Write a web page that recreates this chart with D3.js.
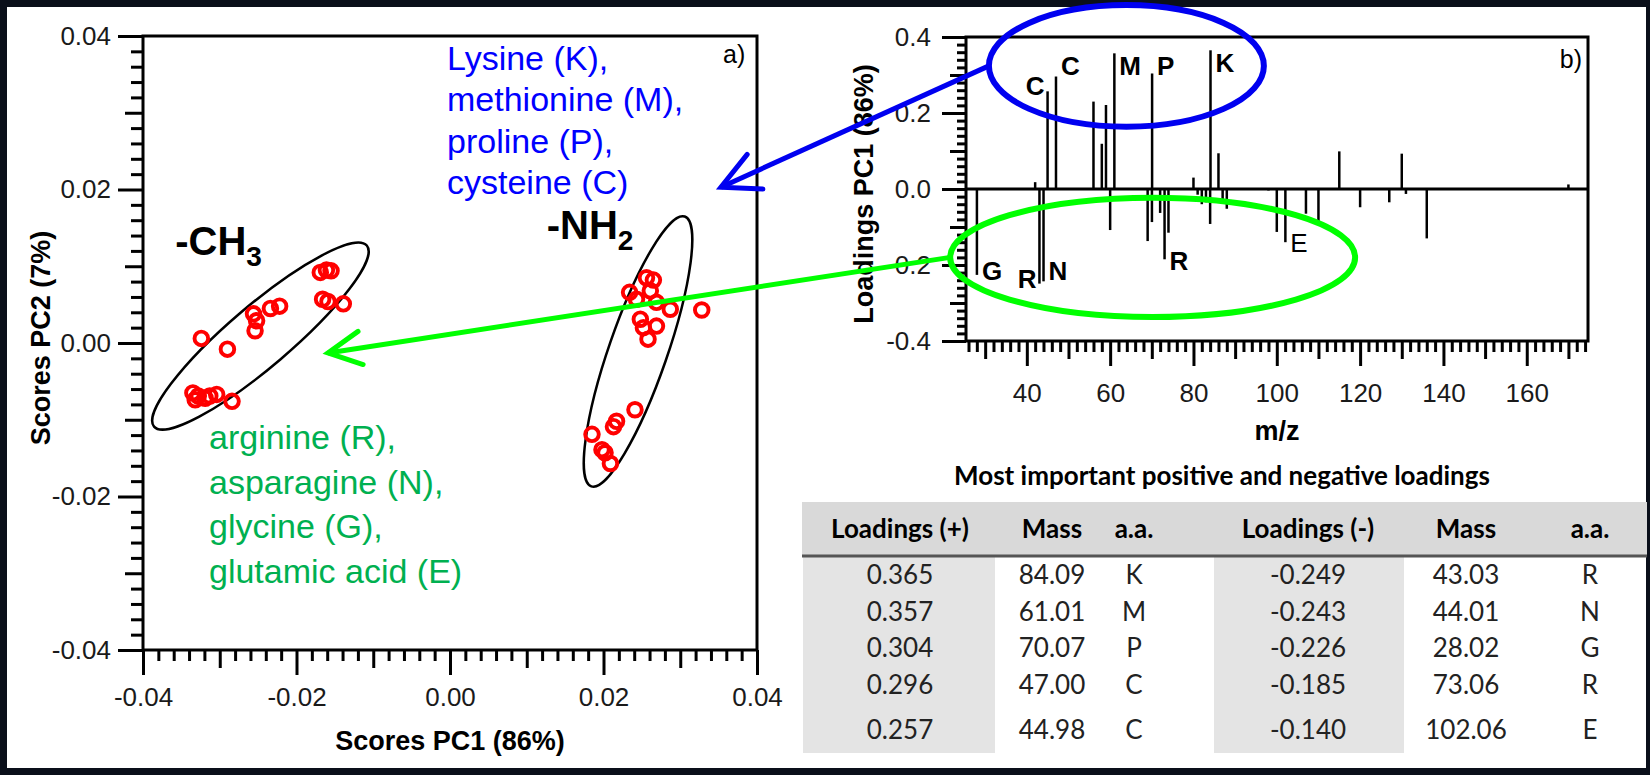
<!DOCTYPE html>
<html>
<head>
<meta charset="utf-8">
<script src="https://cdnjs.cloudflare.com/ajax/libs/d3/7.8.5/d3.min.js"></script>
<style>
  body { margin: 0; background: #0a0f1a; }
  svg text { font-family: "Liberation Sans", Arial, sans-serif; }
</style>
</head>
<body>
<svg id="fig" width="1650" height="775"></svg>
<script>
// ---- data ----

// a) scores, PC1 vs PC2
var ch3Scores = [
  [-0.0169, 0.0092], [-0.0161, 0.0095], [-0.0155, 0.0094], [-0.0166, 0.0057],
  [-0.0159, 0.0054], [-0.0139, 0.0051], [-0.0256, 0.0038], [-0.0252, 0.0029],
  [-0.0254, 0.0016], [-0.0234, 0.0045], [-0.0222, 0.0048], [-0.0324, 0.0006],
  [-0.0290, -0.0008], [-0.0335, -0.0065], [-0.0328, -0.0069], [-0.0319, -0.0072],
  [-0.0313, -0.0069], [-0.0304, -0.0067], [-0.0284, -0.0076], [-0.0332, -0.0074]
];
var nh2Scores = [
  [0.0256, 0.0085], [0.0265, 0.0082], [0.0234, 0.0066], [0.0243, 0.0057],
  [0.0269, 0.0053], [0.0287, 0.0044], [0.0328, 0.0043], [0.0248, 0.0031],
  [0.0269, 0.0022], [0.0252, 0.0020], [0.0258, 0.0005], [0.0261, 0.0068],
  [0.0241, -0.0087], [0.0217, -0.0102], [0.0213, -0.0109], [0.0185, -0.0119],
  [0.0198, -0.0139], [0.0202, -0.0143], [0.0209, -0.0157]
];
// group ellipses: centre, semi-axes (PC units), tilt in degrees
var groupEllipses = [
  { cx: -0.0247, cy: 0.0009, a: 0.0182, b: 0.0040, angle: 40.4 },
  { cx: 0.0245, cy: -0.0011, a: 0.0186, b: 0.0038, angle: 70.9 }
];
var groupLabels = [
  { x: -0.0358, y: 0.0115, text: "-CH", sub: "3" },
  { x: 0.0126, y: 0.0136, text: "-NH", sub: "2" }
];
var scoreMajor = [-0.04, -0.02, 0, 0.02, 0.04];
var scoreMid = [-0.03, -0.01, 0.01, 0.03];
var scoreMinor = [-0.038, -0.036, -0.034, -0.032, -0.028, -0.026, -0.024, -0.022,
  -0.018, -0.016, -0.014, -0.012, -0.008, -0.006, -0.004, -0.002,
  0.002, 0.004, 0.006, 0.008, 0.012, 0.014, 0.016, 0.018,
  0.022, 0.024, 0.026, 0.028, 0.032, 0.034, 0.036, 0.038];

// b) PC1 loadings per m/z
var loadMz = [28.02, 42.0, 43.03, 44.01, 44.98, 47.00, 56.0, 58.0, 59.0, 60.0, 61.01,
  69.0, 70.03, 70.07, 72.0, 73.06, 74.0, 80.0, 81.0, 82.0, 83.0, 84.0, 84.09, 86.0,
  87.0, 88.0, 98.0, 100.0, 102.06, 107.0, 110.0, 115.0, 120.0, 127.0, 130.0, 131.0,
  136.0, 170.0];
var loadPC1 = [-0.226, 0.018, -0.249, -0.243, 0.257, 0.296, 0.230, 0.119, 0.221, -0.108, 0.357,
  -0.137, -0.087, 0.304, -0.063, -0.185, -0.115, 0.030, -0.015, -0.040, -0.035, -0.092, 0.365, 0.094,
  -0.028, -0.052, -0.004, -0.113, -0.140, -0.065, -0.087, 0.099, -0.048, -0.035, 0.093, -0.013,
  -0.130, 0.012];
// peak letters: m/z, label height (loading units), letter, side of bar
var peakLabels = [
  { mz: 44.98, v: 0.247, t: "C", side: "end", bold: true },
  { mz: 47.00, v: 0.300, t: "C", side: "start", bold: true },
  { mz: 61.01, v: 0.300, t: "M", side: "start", bold: true },
  { mz: 70.07, v: 0.300, t: "P", side: "start", bold: true },
  { mz: 84.09, v: 0.308, t: "K", side: "start", bold: true },
  { mz: 28.02, v: -0.240, t: "G", side: "start", bold: true },
  { mz: 43.03, v: -0.261, t: "R", side: "end", bold: true },
  { mz: 44.01, v: -0.240, t: "N", side: "start", bold: true },
  { mz: 73.06, v: -0.214, t: "R", side: "start", bold: true },
  { mz: 102.06, v: -0.165, t: "E", side: "start", bold: false }
];
var mzMajor = [40, 60, 80, 100, 120, 140, 160];
var mzMid = [30, 50, 70, 90, 110, 130, 150, 170];
var mzMinor = d3.range(26, 175, 2).filter(function(d) { return d % 10 !== 0; });
var loadMajor = [-0.4, -0.2, 0, 0.2, 0.4];
var loadMid = [-0.3, -0.1, 0.1, 0.3];
var loadMinor = d3.range(-38, 40, 2).filter(function(d) { return d % 10 !== 0; }).map(function(d) { return d / 100; });

// annotations
var blueText = ["Lysine (K),", "methionine (M),", "proline (P),", "cysteine (C)"];
var greenText = ["arginine (R),", "asparagine (N),", "glycine (G),", "glutamic acid (E)"];

// table of most important loadings
var tableHead = ["Loadings (+)", "Mass", "a.a.", "Loadings (-)", "Mass", "a.a."];
var posLoad = [0.365, 0.357, 0.304, 0.296, 0.257];
var posMass = [84.09, 61.01, 70.07, 47.00, 44.98];
var posAA = ["K", "M", "P", "C", "C"];
var negLoad = [-0.249, -0.243, -0.226, -0.185, -0.140];
var negMass = [43.03, 44.01, 28.02, 73.06, 102.06];
var negAA = ["R", "N", "G", "R", "E"];

// ---- drawing ----
var svg = d3.select("svg#fig");
var dash = function(s) { return s.replace("\u2212", "-"); };

svg.append("rect").attr("width", 1650).attr("height", 775).attr("fill", "#0a0f1a");
svg.append("rect").attr("x", 7).attr("y", 7).attr("width", 1639).attr("height", 761).attr("fill", "white");

var xS = d3.scaleLinear().domain([-0.04, 0.04]).range([143, 757]);
var yS = d3.scaleLinear().domain([-0.04, 0.04]).range([650, 36]);
var xL = d3.scaleLinear().domain([25.4, 174.7]).range([966, 1588]);
var yL = d3.scaleLinear().domain([-0.4, 0.4]).range([341, 37]);

function ruler(pos, axisFn, scale, vals, size, pad, fmt) {
  var g = svg.append("g").attr("transform", "translate(" + pos[0] + "," + pos[1] + ")")
    .call(axisFn(scale).tickValues(vals).tickSize(size).tickSizeOuter(0).tickPadding(pad)
      .tickFormat(fmt || function() { return ""; }));
  g.select(".domain").remove();
  g.selectAll("line").attr("stroke", "#000").attr("stroke-width", 3);
  g.selectAll("text").attr("font-size", 26).attr("fill", "#1a1a1a")
    .style("font-family", '"Liberation Sans", Arial, sans-serif');
  return g;
}

// -- panel a --
var f2 = function(d) { return dash(d3.format(".2f")(d)); };
ruler([143, 0], d3.axisLeft, yS, scoreMinor, 12, 8);
ruler([143, 0], d3.axisLeft, yS, scoreMid, 18, 8);
ruler([143, 0], d3.axisLeft, yS, scoreMajor, 25, 7, f2);
ruler([0, 650], d3.axisBottom, xS, scoreMinor, 11, 8);
ruler([0, 650], d3.axisBottom, xS, scoreMid, 18, 8);
ruler([0, 650], d3.axisBottom, xS, scoreMajor, 25, 13, f2);
svg.append("rect").attr("x", xS(-0.04)).attr("y", yS(0.04))
  .attr("width", xS(0.04) - xS(-0.04)).attr("height", yS(-0.04) - yS(0.04))
  .attr("fill", "none").attr("stroke", "#000").attr("stroke-width", 3);

svg.selectAll("ellipse.group").data(groupEllipses).enter().append("ellipse")
  .attr("class", "group")
  .attr("cx", function(d) { return xS(d.cx); })
  .attr("cy", function(d) { return yS(d.cy); })
  .attr("rx", function(d) { return xS(d.cx + d.a) - xS(d.cx); })
  .attr("ry", function(d) { return xS(d.cx + d.b) - xS(d.cx); })
  .attr("transform", function(d) { return "rotate(" + (-d.angle) + "," + xS(d.cx) + "," + yS(d.cy) + ")"; })
  .attr("fill", "none").attr("stroke", "#000").attr("stroke-width", 2.5);

svg.selectAll("circle.score").data(ch3Scores.concat(nh2Scores)).enter().append("circle")
  .attr("class", "score")
  .attr("cx", function(d) { return xS(d[0]); })
  .attr("cy", function(d) { return yS(d[1]); })
  .attr("r", 6.8)
  .attr("fill", "none").attr("stroke", "#ff0000").attr("stroke-width", 3.9);

var gl = svg.selectAll("text.grp").data(groupLabels).enter().append("text")
  .attr("class", "grp")
  .attr("x", function(d) { return xS(d.x); })
  .attr("y", function(d) { return yS(d.y); })
  .attr("font-size", 40).attr("font-weight", "bold").attr("fill", "#000");
gl.append("tspan").text(function(d) { return d.text; });
gl.append("tspan").attr("dy", 11).attr("font-size", 28).text(function(d) { return d.sub; });

svg.append("text").attr("x", 723).attr("y", 63).attr("font-size", 25).text("a)");
svg.append("text").attr("x", 450).attr("y", 750).attr("text-anchor", "middle")
  .attr("font-size", 27).attr("font-weight", "bold").text("Scores PC1 (86%)");
svg.append("text").attr("transform", "translate(50,338) rotate(-90)").attr("text-anchor", "middle")
  .attr("font-size", 27).attr("font-weight", "bold").text("Scores PC2 (7%)");

svg.selectAll("text.blue").data(blueText).enter().append("text")
  .attr("x", 447).attr("y", function(d, i) { return 70 + i * 41.3; })
  .attr("font-size", 34).attr("fill", "#0000ff").text(function(d) { return d; });
svg.selectAll("text.green").data(greenText).enter().append("text")
  .attr("x", 209).attr("y", function(d, i) { return 449 + i * 44.5; })
  .attr("font-size", 34).attr("fill", "#00b050").text(function(d) { return d; });

// -- panel b --
var f1 = function(d) { return dash(d3.format(".1f")(d)); };
ruler([966, 0], d3.axisLeft, yL, loadMinor, 9, 8);
ruler([966, 0], d3.axisLeft, yL, loadMid, 16, 8);
ruler([966, 0], d3.axisLeft, yL, loadMajor, 24, 11, f1);
ruler([0, 341], d3.axisBottom, xL, mzMinor, 11, 8);
ruler([0, 341], d3.axisBottom, xL, mzMid, 18, 8);
ruler([0, 341], d3.axisBottom, xL, mzMajor, 25, 18, d3.format("d"));

svg.selectAll("line.bar").data(loadMz).enter().append("line")
  .attr("class", "bar")
  .attr("x1", function(d) { return xL(d); }).attr("x2", function(d) { return xL(d); })
  .attr("y1", yL(0)).attr("y2", function(d, i) { return yL(loadPC1[i]); })
  .attr("stroke", "#000").attr("stroke-width", 2.5);
svg.append("line").attr("x1", xL.range()[0]).attr("x2", xL.range()[1])
  .attr("y1", yL(0)).attr("y2", yL(0)).attr("stroke", "#000").attr("stroke-width", 3);
svg.append("rect").attr("x", 966).attr("y", yL(0.4)).attr("width", 1588 - 966).attr("height", yL(-0.4) - yL(0.4))
  .attr("fill", "none").attr("stroke", "#000").attr("stroke-width", 3);

svg.selectAll("text.peak").data(peakLabels).enter().append("text")
  .attr("x", function(d) { return xL(d.mz) + (d.side === "end" ? -3 : 5); })
  .attr("y", function(d) { return yL(d.v); })
  .attr("text-anchor", function(d) { return d.side; })
  .attr("font-size", 26).attr("font-weight", function(d) { return d.bold ? "bold" : "normal"; })
  .text(function(d) { return d.t; });

svg.append("text").attr("x", 1582).attr("y", 68).attr("text-anchor", "end").attr("font-size", 25).text("b)");
svg.append("text").attr("x", 1277).attr("y", 440).attr("text-anchor", "middle")
  .attr("font-size", 27).attr("font-weight", "bold").text("m/z");
svg.append("text").attr("transform", "translate(873,194) rotate(-90)").attr("text-anchor", "middle")
  .attr("font-size", 27).attr("font-weight", "bold").text("Loadings PC1 (86%)");

// -- table --
var colX = [900, 1052, 1134, 1308, 1466, 1590];
var rowY = [584, 621, 657, 694, 739];
var tbl = svg.append("g");
tbl.append("text").attr("x", 1222).attr("y", 485).attr("text-anchor", "middle")
  .attr("font-size", 26).attr("font-weight", "bold").style("font-family", "Lato, sans-serif")
  .text("Most important positive and negative loadings");
tbl.append("rect").attr("x", 802).attr("y", 502).attr("width", 845).attr("height", 54).attr("fill", "#d9d9d9");
tbl.append("rect").attr("x", 803).attr("y", 557).attr("width", 192).attr("height", 196).attr("fill", "#e4e4e4");
tbl.append("rect").attr("x", 1214).attr("y", 557).attr("width", 190).attr("height", 196).attr("fill", "#e4e4e4");
tbl.append("line").attr("x1", 802).attr("x2", 1647).attr("y1", 556).attr("y2", 556)
  .attr("stroke", "#555").attr("stroke-width", 3);
tbl.selectAll("text.hd").data(tableHead).enter().append("text")
  .attr("x", function(d, i) { return colX[i]; }).attr("y", 538).attr("text-anchor", "middle")
  .attr("font-size", 26).attr("font-weight", "bold").style("font-family", "Lato, sans-serif")
  .text(function(d) { return d; });
var f3 = function(d) { return dash(d3.format(".3f")(d)); };
var m2 = d3.format(".2f");
var rows = posLoad.map(function(d, i) {
  return [f3(d), m2(posMass[i]), posAA[i], f3(negLoad[i]), m2(negMass[i]), negAA[i]];
});
rows.forEach(function(r, i) {
  tbl.selectAll(null).data(r).enter().append("text")
    .attr("x", function(d, j) { return colX[j]; }).attr("y", rowY[i]).attr("text-anchor", "middle")
    .attr("font-size", 26).attr("fill", "#222").style("font-family", "Lato, sans-serif")
    .text(function(d) { return d; });
});

// -- highlight ellipses and arrows --
var blueRing = { mz: 63.9, v: 0.324, rmz: 33.0, rv: 0.160 };
var greenRing = { mz: 70.2, v: -0.180, rmz: 48.6, rv: 0.157 };
var blueTip = [0.0353, 0.0203];
var greenTip = [-0.0159, -0.0013];

function ring(r, col) {
  svg.append("ellipse").attr("cx", xL(r.mz)).attr("cy", yL(r.v))
    .attr("rx", xL(r.mz + r.rmz) - xL(r.mz)).attr("ry", yL(-r.rv) - yL(0))
    .attr("fill", "none").attr("stroke", col).attr("stroke-width", 6);
}
function arrow(r, tip, col, len) {
  var sx = xL(r.mz - r.rmz), sy = yL(r.v);
  var tx = xS(tip[0]), ty = yS(tip[1]);
  var ang = Math.atan2(sy - ty, sx - tx);
  var arm = function(off) {
    return [tx + len * Math.cos(ang + off), ty + len * Math.sin(ang + off)];
  };
  svg.append("line").attr("x1", sx).attr("y1", sy).attr("x2", tx).attr("y2", ty)
    .attr("stroke", col).attr("stroke-width", 5);
  svg.append("path")
    .attr("d", d3.line()([arm(-0.47), [tx, ty], arm(0.47)]))
    .attr("fill", "none").attr("stroke", col).attr("stroke-width", 5)
    .attr("stroke-linecap", "round").attr("stroke-linejoin", "miter");
}
ring(blueRing, "#0000f0");
ring(greenRing, "#00ff00");
arrow(blueRing, blueTip, "#0000f0", 42);
arrow(greenRing, greenTip, "#00ff00", 37);
</script>
</body>
</html>
